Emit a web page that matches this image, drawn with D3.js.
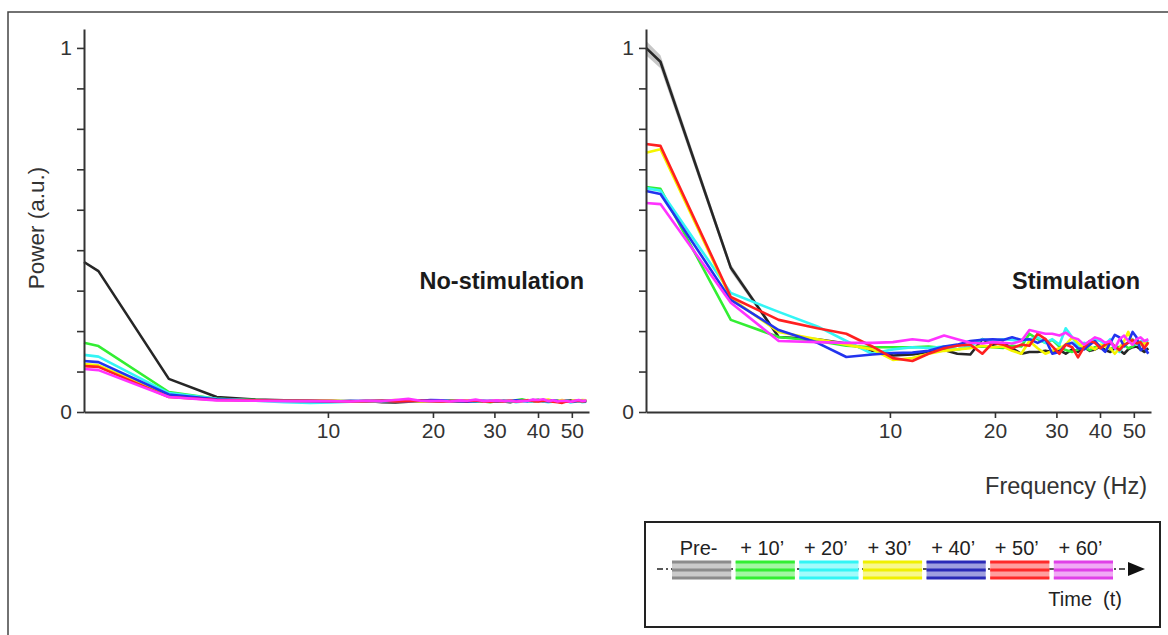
<!DOCTYPE html>
<html>
<head>
<meta charset="utf-8">
<script src="https://cdn.jsdelivr.net/npm/d3@7"></script>
<style>
  body { margin: 0; background: #fff; }
  svg { display: block; font-family: Arial, "Liberation Sans", sans-serif; }
</style>
</head>
<body>
<svg id="chart" width="1168" height="635"></svg>
<script>
// frequency bins (Hz), shared by every curve
const freqs = [2.0, 2.2, 3.5, 4.8, 6.2, 7.5, 8.9, 10.2, 11.6, 12.9, 14.3, 15.6, 17.0, 18.4, 19.7, 21.1,
  22.4, 23.8, 25.1, 26.5, 27.9, 29.2, 30.6, 31.9, 33.3, 34.6, 36.0, 37.4, 38.7, 40.1, 41.4, 42.8,
  44.1, 45.5, 46.9, 48.2, 49.6, 50.9, 52.3, 53.6, 55.0];
const xTicks = [10, 20, 30, 40, 50];
const timeLabels = ["Pre-", "+ 10\u2019", "+ 20\u2019", "+ 30\u2019", "+ 40\u2019", "+ 50\u2019", "+ 60\u2019"];
const lineColors = ["#262626", "#33ee33", "#33f5f5", "#f5f500", "#2233ee", "#ff2020", "#ff33ff"];
const legendColors = ["#8c8c8c", "#33ee33", "#33f5f5", "#f0f000", "#2a2ab8", "#ff2a2a", "#e040e8"];

// No-stimulation
const noStimPre = [0.412, 0.387, 0.091, 0.041, 0.034, 0.032, 0.031, 0.030, 0.029, 0.030, 0.027, 0.026, 0.028, 0.031, 0.030, 0.029, 0.031, 0.030, 0.032, 0.029, 0.028, 0.030, 0.031, 0.029, 0.027, 0.030, 0.032, 0.030, 0.028, 0.031, 0.033, 0.030, 0.029, 0.031, 0.028, 0.030, 0.032, 0.029, 0.031, 0.030, 0.032];
const noStim10 = [0.190, 0.181, 0.055, 0.036, 0.033, 0.031, 0.030, 0.031, 0.029, 0.030, 0.031, 0.030, 0.032, 0.030, 0.029, 0.031, 0.030, 0.032, 0.030, 0.028, 0.029, 0.027, 0.030, 0.031, 0.028, 0.032, 0.035, 0.031, 0.030, 0.034, 0.029, 0.031, 0.030, 0.028, 0.030, 0.032, 0.029, 0.031, 0.030, 0.029, 0.031];
const noStim20 = [0.157, 0.152, 0.052, 0.036, 0.031, 0.027, 0.025, 0.026, 0.028, 0.030, 0.029, 0.031, 0.030, 0.029, 0.031, 0.032, 0.030, 0.029, 0.031, 0.030, 0.029, 0.030, 0.028, 0.029, 0.030, 0.027, 0.029, 0.030, 0.028, 0.031, 0.029, 0.027, 0.028, 0.030, 0.029, 0.031, 0.026, 0.028, 0.030, 0.027, 0.028];
const noStim30 = [0.132, 0.128, 0.046, 0.034, 0.032, 0.031, 0.030, 0.031, 0.030, 0.029, 0.031, 0.033, 0.030, 0.029, 0.030, 0.031, 0.029, 0.030, 0.032, 0.031, 0.030, 0.029, 0.031, 0.030, 0.032, 0.031, 0.030, 0.033, 0.031, 0.030, 0.032, 0.034, 0.031, 0.030, 0.033, 0.031, 0.030, 0.032, 0.031, 0.033, 0.032];
const noStim40 = [0.140, 0.137, 0.048, 0.035, 0.032, 0.031, 0.030, 0.029, 0.031, 0.030, 0.031, 0.030, 0.029, 0.031, 0.033, 0.032, 0.030, 0.029, 0.028, 0.030, 0.031, 0.030, 0.029, 0.031, 0.030, 0.032, 0.031, 0.030, 0.033, 0.030, 0.031, 0.029, 0.032, 0.030, 0.028, 0.031, 0.030, 0.029, 0.031, 0.030, 0.029];
const noStim50 = [0.126, 0.124, 0.041, 0.033, 0.032, 0.031, 0.031, 0.030, 0.029, 0.030, 0.031, 0.029, 0.030, 0.031, 0.030, 0.029, 0.030, 0.031, 0.030, 0.032, 0.029, 0.028, 0.030, 0.029, 0.031, 0.028, 0.030, 0.032, 0.030, 0.029, 0.031, 0.030, 0.028, 0.027, 0.025, 0.029, 0.028, 0.030, 0.031, 0.029, 0.030];
const noStim60 = [0.118, 0.115, 0.041, 0.032, 0.031, 0.030, 0.030, 0.030, 0.029, 0.031, 0.030, 0.033, 0.036, 0.031, 0.030, 0.031, 0.029, 0.032, 0.031, 0.034, 0.030, 0.031, 0.032, 0.030, 0.031, 0.029, 0.030, 0.031, 0.034, 0.033, 0.035, 0.030, 0.032, 0.029, 0.031, 0.030, 0.028, 0.031, 0.033, 0.030, 0.032];

// Stimulation
const stimPre = [1.000, 0.962, 0.396, 0.206, 0.200, 0.188, 0.168, 0.155, 0.158, 0.165, 0.170, 0.160, 0.158, 0.200, 0.185, 0.190, 0.175, 0.160, 0.165, 0.165, 0.168, 0.165, 0.170, 0.160, 0.172, 0.165, 0.178, 0.168, 0.172, 0.180, 0.170, 0.165, 0.175, 0.170, 0.160, 0.172, 0.178, 0.180, 0.172, 0.165, 0.175];
const stim10 = [0.618, 0.613, 0.253, 0.206, 0.195, 0.182, 0.178, 0.178, 0.178, 0.180, 0.176, 0.172, 0.178, 0.180, 0.178, 0.176, 0.182, 0.180, 0.215, 0.200, 0.190, 0.198, 0.180, 0.170, 0.165, 0.172, 0.178, 0.170, 0.178, 0.180, 0.185, 0.172, 0.180, 0.178, 0.185, 0.175, 0.180, 0.188, 0.183, 0.190, 0.185];
const stim20 = [0.615, 0.608, 0.327, 0.275, 0.235, 0.195, 0.160, 0.172, 0.178, 0.176, 0.180, 0.172, 0.182, 0.200, 0.195, 0.200, 0.198, 0.195, 0.200, 0.205, 0.190, 0.200, 0.185, 0.230, 0.205, 0.180, 0.190, 0.185, 0.200, 0.195, 0.185, 0.200, 0.175, 0.165, 0.185, 0.190, 0.200, 0.185, 0.195, 0.190, 0.198];
const stim30 = [0.712, 0.722, 0.312, 0.220, 0.200, 0.185, 0.172, 0.143, 0.148, 0.160, 0.168, 0.172, 0.175, 0.182, 0.178, 0.180, 0.168, 0.160, 0.195, 0.175, 0.160, 0.168, 0.175, 0.185, 0.205, 0.190, 0.175, 0.180, 0.172, 0.185, 0.180, 0.175, 0.160, 0.175, 0.195, 0.220, 0.190, 0.200, 0.185, 0.190, 0.184];
const stim40 = [0.607, 0.599, 0.308, 0.225, 0.190, 0.151, 0.158, 0.162, 0.163, 0.168, 0.180, 0.185, 0.195, 0.198, 0.200, 0.198, 0.205, 0.198, 0.200, 0.190, 0.200, 0.160, 0.165, 0.185, 0.190, 0.175, 0.172, 0.185, 0.195, 0.178, 0.165, 0.190, 0.212, 0.205, 0.180, 0.192, 0.220, 0.205, 0.170, 0.178, 0.160];
const stim50 = [0.736, 0.731, 0.316, 0.253, 0.230, 0.215, 0.180, 0.148, 0.140, 0.160, 0.175, 0.182, 0.185, 0.160, 0.190, 0.185, 0.175, 0.185, 0.182, 0.215, 0.200, 0.180, 0.160, 0.185, 0.178, 0.150, 0.178, 0.195, 0.190, 0.175, 0.185, 0.192, 0.180, 0.170, 0.185, 0.190, 0.198, 0.188, 0.192, 0.175, 0.192];
const stim60 = [0.574, 0.571, 0.300, 0.195, 0.192, 0.190, 0.190, 0.192, 0.200, 0.195, 0.210, 0.200, 0.190, 0.188, 0.192, 0.190, 0.188, 0.195, 0.225, 0.220, 0.215, 0.215, 0.210, 0.218, 0.205, 0.200, 0.185, 0.195, 0.205, 0.200, 0.190, 0.195, 0.175, 0.200, 0.210, 0.195, 0.185, 0.200, 0.205, 0.195, 0.200];
// SEM of the pre- curve under stimulation, first bins only (rest is too thin to see)
const stimPreSem = [0.020, 0.018, 0.010, 0.005];

const noStimSeries = [noStimPre, noStim10, noStim20, noStim30, noStim40, noStim50, noStim60];
const stimSeries = [stimPre, stim10, stim20, stim30, stim40, stim50, stim60];

const svg = d3.select("#chart");
const ink = "#333";

// figure frame (top + left edge)
svg.append("path")
  .attr("d", "M8,635 V12 H1168")
  .attr("fill", "none")
  .attr("stroke", "#444")
  .attr("stroke-width", 1.5);

function drawPanel(series, left, title, titleEnd, sem) {
  let x = d3.scaleLog().domain([2, 56]).range([left, left + 505]);
  let y = d3.scaleLinear().domain([0, 1.052]).range([412, 29]);

  let g = svg.append("g");

  if (sem) {
    let band = d3.area()
      .x((d, i) => x(freqs[i]))
      .y0((d, i) => y(series[0][i] - d))
      .y1((d, i) => y(series[0][i] + d));
    g.append("path")
      .attr("d", band(sem))
      .attr("fill", "#999")
      .attr("opacity", 0.55);
  }

  let line = d3.line()
    .x((d, i) => x(freqs[i]))
    .y((d) => y(d));

  g.selectAll(".curve")
    .data(series)
    .enter()
    .append("path")
    .attr("class", "curve")
    .attr("d", (d) => line(d))
    .attr("fill", "none")
    .attr("stroke", (d, i) => lineColors[i])
    .attr("stroke-width", 2.6)
    .attr("stroke-linejoin", "round");

  let yAxis = g.append("g")
    .attr("transform", `translate(${left},0)`)
    .call(d3.axisLeft(y)
      .tickValues(d3.range(10).map((k) => k / 9))
      .tickFormat((d) => (d === 0 || d === 1 ? d : ""))
      .tickSize(7)
      .tickSizeOuter(0)
      .tickPadding(5));

  let xAxis = g.append("g")
    .attr("transform", "translate(0,412)")
    .call(d3.axisBottom(x)
      .tickValues(xTicks)
      .tickFormat(d3.format("d"))
      .tickSize(6)
      .tickSizeOuter(0)
      .tickPadding(5));

  [yAxis, xAxis].forEach((ax) => {
    ax.select(".domain").attr("stroke", ink).attr("stroke-width", 2);
    ax.selectAll(".tick line").attr("stroke", ink).attr("stroke-width", 1.6);
    ax.selectAll(".tick text")
      .attr("fill", ink)
      .style("font-size", "21px")
      .style("font-family", "Arial, 'Liberation Sans', sans-serif");
  });

  g.append("text")
    .attr("x", titleEnd)
    .attr("y", 289)
    .attr("text-anchor", "end")
    .style("font-size", "23.5px")
    .style("font-weight", "bold")
    .attr("fill", "#1a1a1a")
    .text(title);
}

drawPanel(noStimSeries, 84, "No-stimulation", 584, null);
drawPanel(stimSeries, 646, "Stimulation", 1140, stimPreSem);

svg.append("text")
  .attr("transform", "translate(44,228) rotate(-90)")
  .attr("text-anchor", "middle")
  .attr("fill", ink)
  .style("font-size", "22.5px")
  .text("Power (a.u.)");

svg.append("text")
  .attr("x", 1147)
  .attr("y", 494)
  .attr("text-anchor", "end")
  .attr("fill", ink)
  .style("font-size", "23.5px")
  .text("Frequency (Hz)");

// time legend
let legend = svg.append("g");
legend.append("rect")
  .attr("x", 645).attr("y", 522)
  .attr("width", 515).attr("height", 105)
  .attr("fill", "#fff")
  .attr("stroke", "#222")
  .attr("stroke-width", 2);

legend.append("line")
  .attr("x1", 657).attr("x2", 1130)
  .attr("y1", 569).attr("y2", 569)
  .attr("stroke", "#222")
  .attr("stroke-width", 1.5)
  .attr("stroke-dasharray", "6,3,2,3");

legend.append("path")
  .attr("d", "M1128,562 L1145,569 L1128,576 Z")
  .attr("fill", "#111");

let band = d3.scaleBand()
  .domain(timeLabels)
  .range([672, 1113])
  .paddingInner(0.07);

let seg = legend.selectAll(".seg")
  .data(timeLabels)
  .enter()
  .append("g")
  .attr("class", "seg")
  .attr("transform", (d) => `translate(${band(d)},0)`);

// opaque pale fill so the time arrow stays hidden behind each block
seg.append("rect")
  .attr("y", 561)
  .attr("width", band.bandwidth())
  .attr("height", 18)
  .attr("fill", (d, i) => d3.interpolateRgb(legendColors[i], "#fff")(0.55));

[562, 570, 578].forEach((ly) => {
  seg.append("line")
    .attr("x1", 0).attr("x2", band.bandwidth())
    .attr("y1", ly).attr("y2", ly)
    .attr("stroke", (d, i) => legendColors[i])
    .attr("stroke-width", 3);
});

seg.append("text")
  .attr("x", band.bandwidth() / 2 - 3)
  .attr("y", 555)
  .attr("text-anchor", "middle")
  .attr("fill", "#222")
  .style("font-size", "20px")
  .text((d) => d);

legend.append("text")
  .attr("x", 1122)
  .attr("y", 606)
  .attr("text-anchor", "end")
  .attr("fill", "#222")
  .style("font-size", "20px")
  .style("white-space", "pre")
  .text("Time  (t)");
</script>
</body>
</html>
